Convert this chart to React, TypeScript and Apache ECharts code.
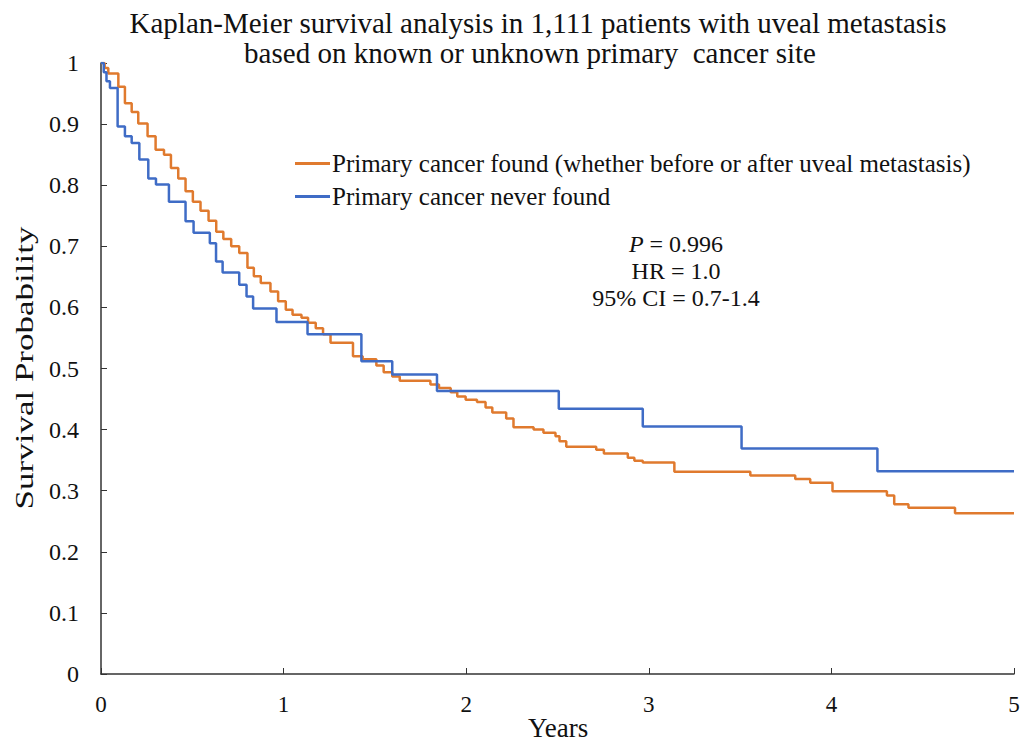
import React, { useEffect, useRef } from "react";
import * as echarts from "echarts";

const titleLines = [
  "Kaplan-Meier survival analysis in 1,111 patients with uveal metastasis",
  "based on known or unknown primary  cancer site",
];
const seriesNames = [
  "Primary cancer found (whether before or after uveal metastasis)",
  "Primary cancer never found",
];
const xAxisName = "Years";
const yAxisName = "Survival Probability";
const xTicks = [0, 1, 2, 3, 4, 5];
const yTicks = [0, 0.1, 0.2, 0.3, 0.4, 0.5, 0.6, 0.7, 0.8, 0.9, 1];

// [years, survival probability] — value holds from this time until the next point
const foundTimes = [
  0, 0.02, 0.04, 0.095, 0.131, 0.168, 0.204, 0.255, 0.299, 0.345, 0.383, 0.423, 0.463, 0.503,
  0.545, 0.589, 0.631, 0.67, 0.713, 0.757, 0.802, 0.837, 0.875, 0.928, 0.97, 1.012, 1.049,
  1.098, 1.134, 1.176, 1.216, 1.257, 1.38, 1.433, 1.508, 1.548, 1.595, 1.636, 1.804, 1.851,
  1.915, 1.951, 1.997, 2.059, 2.106, 2.143, 2.219, 2.259, 2.369, 2.423, 2.489, 2.511, 2.548,
  2.712, 2.754, 2.885, 2.921, 2.967, 3.14, 3.556, 3.802, 3.884, 4.006, 4.304, 4.344, 4.422,
  4.677, 5,
];
const foundSurvival = [
  1, 0.992, 0.983, 0.961, 0.934, 0.92, 0.901, 0.88, 0.858, 0.85, 0.828, 0.811, 0.79, 0.773,
  0.758, 0.742, 0.724, 0.712, 0.7, 0.689, 0.665, 0.651, 0.64, 0.626, 0.61, 0.596, 0.588,
  0.583, 0.575, 0.566, 0.556, 0.542, 0.52, 0.515, 0.505, 0.494, 0.487, 0.48, 0.474, 0.468,
  0.461, 0.454, 0.449, 0.445, 0.436, 0.428, 0.418, 0.404, 0.4, 0.395, 0.389, 0.381, 0.372,
  0.367, 0.361, 0.354, 0.349, 0.346, 0.331, 0.325, 0.319, 0.313, 0.299, 0.292, 0.278, 0.272,
  0.263, 0.263,
];
const neverTimes = [
  0, 0.015, 0.03, 0.049, 0.091, 0.131, 0.168, 0.21, 0.259, 0.301, 0.372, 0.463, 0.507, 0.596,
  0.63, 0.666, 0.757, 0.797, 0.833, 0.961, 1.131, 1.426, 1.595, 1.84, 2.507, 2.967, 3.508,
  4.252, 5,
];
const neverSurvival = [
  1, 0.985, 0.97, 0.959, 0.896, 0.88, 0.869, 0.842, 0.811, 0.801, 0.773, 0.741, 0.722, 0.705,
  0.675, 0.657, 0.637, 0.618, 0.598, 0.576, 0.556, 0.512, 0.49, 0.463, 0.434, 0.405, 0.369,
  0.332, 0.332,
];
const stats = ["P", " = 0.996", "HR = 1.0", "95% CI = 0.7-1.4"];

const FONT = "'Liberation Serif', 'Times New Roman', serif";
const ORANGE = "#E07A2E";
const BLUE = "#3F6CC6";
const INK = "#111";

export default function App() {
  const ref = useRef<HTMLDivElement>(null);
  useEffect(() => {
    if (!ref.current) return;
    const chart = echarts.init(ref.current, null, { renderer: "svg" });
    const found = foundTimes.map((t, i) => [t, foundSurvival[i]]);
    const never = neverTimes.map((t, i) => [t, neverSurvival[i]]);
    const titleStyle = { fontFamily: FONT, fontSize: 29, fontWeight: "normal", color: INK };
    chart.setOption({
      animation: false,
      backgroundColor: "#ffffff",
      textStyle: { fontFamily: FONT },
      title: [
        { text: titleLines[0], left: 533, textAlign: "center", top: 3, textStyle: titleStyle },
        { text: titleLines[1], left: 525, textAlign: "center", top: 33, textStyle: titleStyle },
      ],
      legend: {
        orient: "vertical",
        left: 290,
        top: 146,
        icon: "rect",
        itemWidth: 35,
        itemHeight: 3,
        itemGap: 8,
        data: seriesNames,
        textStyle: {
          fontFamily: FONT,
          fontSize: 25,
          lineHeight: 25,
          color: INK,
          padding: [0, 0, 0, -3],
        },
      },
      grid: {
        left: 101,
        right: 6,
        top: 63,
        bottom: 72,
        containLabel: false,
        outerBoundsMode: "none",
      },
      xAxis: {
        type: "value",
        min: xTicks[0],
        max: xTicks[xTicks.length - 1],
        interval: 1,
        axisLine: { lineStyle: { color: "#333", width: 1.5 } },
        axisTick: { inside: true, length: 6, lineStyle: { color: "#333" } },
        axisLabel: { fontFamily: FONT, fontSize: 23, color: INK, margin: 19 },
        splitLine: { show: false },
      },
      yAxis: {
        type: "value",
        min: yTicks[0],
        max: yTicks[yTicks.length - 1],
        interval: 0.1,
        axisLine: { show: true, lineStyle: { color: "#333", width: 1.5 } },
        axisTick: { show: true, inside: true, length: 6, lineStyle: { color: "#333" } },
        axisLabel: {
          fontFamily: FONT,
          fontSize: 24,
          color: INK,
          margin: 22,
          formatter: (v: number) => String(Math.round(v * 10) / 10),
        },
        splitLine: { show: false },
      },
      series: [
        {
          name: seriesNames[0],
          type: "line",
          step: "end",
          data: found,
          showSymbol: false,
          lineStyle: { color: ORANGE, width: 2.5 },
          itemStyle: { color: ORANGE },
          z: 2,
        },
        {
          name: seriesNames[1],
          type: "line",
          step: "end",
          data: never,
          showSymbol: false,
          lineStyle: { color: BLUE, width: 2.5 },
          itemStyle: { color: BLUE },
          z: 3,
        },
      ],
      graphic: [
        {
          type: "text",
          x: 558,
          y: 728,
          style: {
            text: xAxisName,
            fontFamily: FONT,
            fontSize: 27,
            fill: INK,
            align: "center",
            verticalAlign: "middle",
          },
        },
        {
          type: "text",
          x: 25,
          y: 368,
          rotation: Math.PI / 2,
          scaleX: 1.4,
          style: {
            text: yAxisName,
            fontFamily: FONT,
            fontSize: 25,
            fill: INK,
            align: "center",
            verticalAlign: "middle",
          },
        },
        {
          type: "text",
          x: 676,
          y: 230,
          style: {
            text: `{i|${stats[0]}}${stats[1]}\n${stats[2]}\n${stats[3]}`,
            align: "center",
            fontFamily: FONT,
            fontSize: 24,
            lineHeight: 27,
            fill: INK,
            rich: { i: { fontStyle: "italic", fontFamily: FONT, fontSize: 24, fill: INK } },
          },
        },
      ],
    });
    return () => chart.dispose();
  }, []);
  return (
    <div
      ref={ref}
      style={{ position: "fixed", left: 0, top: 0, width: 1020, height: 746 }}
    />
  );
}
